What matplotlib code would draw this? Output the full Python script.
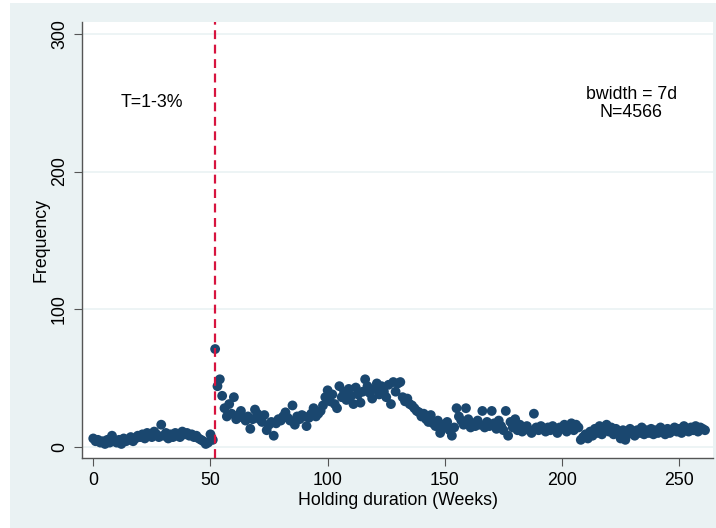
import numpy as np
import matplotlib
matplotlib.use("Agg")
import matplotlib.pyplot as plt
from matplotlib.patches import Rectangle

plt.rcParams['font.family'] = ['Liberation Sans', 'DejaVu Sans']

# weekly frequency counts (bwidth = 7 days), weeks 0..261
weeks = np.arange(262)
freq = [
    6, 4, 5, 3, 4, 2, 5, 3, 8, 4,
    3, 5, 2, 6, 4, 5, 7, 4, 6, 8,
    7, 9, 6, 10, 8, 7, 11, 9, 7, 16,
    8, 10, 6, 9, 7, 10, 8, 7, 11, 9,
    10, 8, 9, 7, 8, 6, 5, 4, 2, 3,
    9, 5, 71, 44, 49, 37, 28, 22, 31, 24,
    36, 20, 23, 26, 21, 19, 22, 13, 20, 27,
    24, 20, 18, 23, 12, 16, 18, 8, 17, 20,
    19, 22, 25, 21, 19, 30, 16, 22, 20, 23,
    22, 15, 21, 24, 28, 22, 24, 26, 30, 36,
    41, 33, 38, 31, 28, 44, 36, 40, 34, 42,
    37, 31, 43, 38, 32, 40, 49, 44, 39, 35,
    42, 46, 38, 44, 40, 36, 45, 31, 47, 40,
    46, 47, 36, 33, 35, 31, 30, 28, 26, 25,
    22, 24, 20, 18, 23, 17, 15, 19, 10, 16,
    14, 18, 12, 8, 14, 28, 22, 19, 16, 28,
    20, 14, 17, 15, 19, 16, 26, 14, 18, 15,
    26, 17, 13, 19, 15, 12, 26, 8, 18, 14,
    20, 12, 16, 11, 13, 15, 12, 10, 24, 14,
    12, 15, 13, 11, 14, 12, 15, 13, 10, 14,
    13, 16, 11, 15, 17, 12, 16, 14, 5, 7,
    9, 6, 11, 8, 13, 10, 15, 9, 12, 16,
    11, 14, 9, 13, 10, 6, 12, 5, 9, 13,
    11, 8, 12, 10, 14, 9, 12, 10, 13, 9,
    12, 10, 14, 11, 9, 13, 10, 12, 14, 11,
    13, 10, 15, 12, 11, 14, 12, 15, 11, 14,
    13, 12,
]
threshold = 52
xticks = [0, 50, 100, 150, 200, 250]
yticks = [0, 100, 200, 300]

bg = '#EAF2F3'
navy = '#1A476F'

fig = plt.figure(figsize=(7.16, 5.28), dpi=100, facecolor='white')
fig.patches.append(Rectangle((10 / 716, 0), 1, 1 - 3 / 528,
                             transform=fig.transFigure, facecolor=bg,
                             edgecolor='none', zorder=-10))
ax = fig.add_axes([82 / 716, 70 / 528, 631 / 716, 436 / 528])
ax.set_facecolor('white')

ax.scatter(weeks, freq, s=50, color=navy, edgecolors='none', zorder=3)
ax.axvline(threshold, color='#D7143F', ls=(0, (4, 2.5)), lw=1.6, zorder=4)

ax.set_xlim(-4.8, 264.4)
ax.set_ylim(-8.2, 308.7)
ax.set_xticks(xticks)
ax.set_yticks(yticks)
ax.yaxis.grid(True, color=bg, lw=1.2)
ax.set_axisbelow(True)
for s in ['top', 'right']:
    ax.spines[s].set_visible(False)
for s in ['left', 'bottom']:
    ax.spines[s].set_color('#555555')
    ax.spines[s].set_linewidth(1.0)
ax.tick_params(axis='both', direction='out', length=6, color='#555555',
               labelsize=12.8, pad=4)
plt.setp(ax.get_yticklabels(), rotation=90, va='center')

ax.set_xlabel('Holding duration (Weeks)', fontsize=12.8, labelpad=2)
ax.set_ylabel('Frequency', fontsize=12.8, labelpad=1)

ax.text(25, 250, 'T=1-3%', fontsize=12.8, ha='center', va='center')
ax.text(229.7, 255.8, 'bwidth = 7d', fontsize=12.8, ha='center', va='center')
ax.text(229.3, 243, 'N=4566', fontsize=12.8, ha='center', va='center')

fig.savefig('out.png', dpi=100, facecolor=fig.get_facecolor())
